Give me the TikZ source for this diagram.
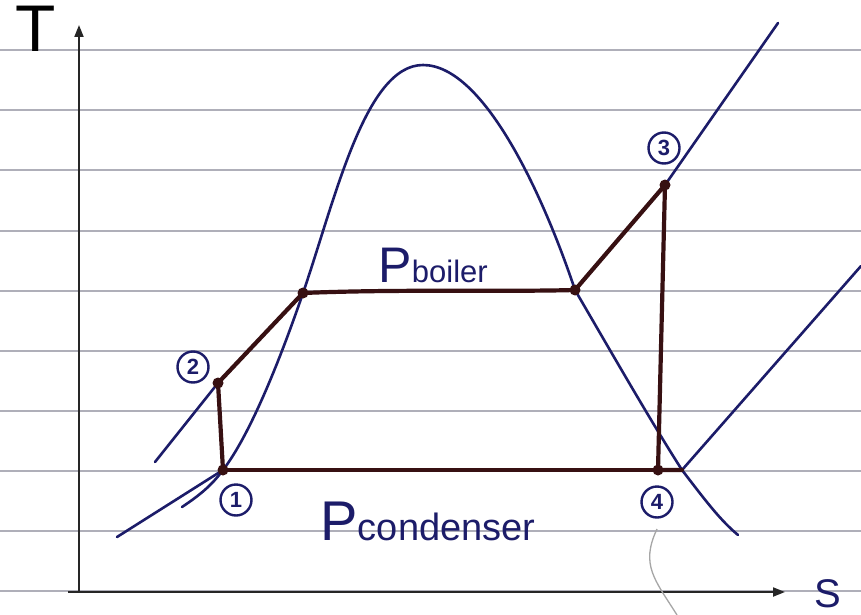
\documentclass[tikz,border=0pt]{standalone}
\usepackage{fontspec}
\setmainfont{Liberation Sans}
\usetikzlibrary{arrows.meta}
\definecolor{ink}{RGB}{28,28,105}
\definecolor{cyc}{RGB}{55,16,18}
\definecolor{rule}{RGB}{175,175,185}
\tikzset{
  ruleline/.style={rule, line width=1.1pt},
  axisline/.style={black!85, line width=2pt, -{Triangle[length=12pt,width=9pt]}},
  dome/.style={ink, line width=2.6pt, line cap=round, line join=round},
  cycle/.style={cyc, line width=4.2pt, line cap=round, line join=round},
  statedot/.style={circle, fill=cyc, inner sep=0pt, minimum size=11pt},
  statelabel/.style={circle, draw=ink, line width=2.4pt, inner sep=0pt, minimum size=31pt, text=ink, font=\fontsize{22}{22}\selectfont\bfseries},
  handtext/.style={text=ink, inner sep=0pt}
}
\begin{document}
\begin{tikzpicture}[x=1pt,y={(0,-1pt)}]
\useasboundingbox (0,0) rectangle (861,615);
\fill[white] (0,0) rectangle (861,615);
% ruled paper
\foreach \yy in {50,110,170,231,291,351,411,471,531,591}
  \draw[ruleline] (0,\yy) -- (861,\yy);
% axes
\coordinate (o) at (79,592);
\coordinate (ytop) at (79,25);
\coordinate (xleft) at (68,592);
\coordinate (xright) at (785,592);
\draw[axisline] (o) -- (ytop);
\draw[black!85, line width=2pt] (o) -- (xleft);
\draw[axisline] (o) -- (xright);
\node[handtext, text=black, font=\fontsize{66}{66}\selectfont, anchor=base] (tlab) at (36,52) {T};
\node[handtext, font=\fontsize{40}{40}\selectfont, anchor=base] (slab) at (828,607) {S};
% state points
\coordinate (s1) at (223,470);
\coordinate (s2) at (218,383);
\coordinate (sf) at (303,293);
\coordinate (sg) at (575,290);
\coordinate (s3) at (665,185);
\coordinate (s4) at (658,470);
\coordinate (x4) at (682,470);
\coordinate (top) at (423,65);
\coordinate (d0) at (182,507);
\coordinate (d1) at (738,535);
% saturation dome
\draw[dome] (d0) .. controls (200,495) and (212,485) .. (s1)
  .. controls (250,435) and (280,360) .. (sf)
  .. controls (335,200) and (365,65) .. (top)
  .. controls (485,65) and (545,200) .. (sg)
  .. controls (610,350) and (650,420) .. (x4)
  .. controls (705,500) and (720,520) .. (d1);
% isobar extensions
\coordinate (l1) at (117,537);
\coordinate (l2) at (155,462);
\coordinate (u3) at (778,23);
\coordinate (u4) at (861,266);
\draw[dome] (l1) -- (s1);
\draw[dome] (l2) -- (s2);
\draw[dome] (s3) -- (u3);
\draw[dome] (x4) -- (u4);
% cycle
\draw[cycle] (s1) -- (s2) -- (sf) .. controls (400,289) and (500,292) .. (sg) -- (s3) -- (s4) -- (x4);
\draw[cycle] (s4) -- (s1);
\foreach \p in {s1,s2,sf,sg,s3,s4}
  \node[statedot] at (\p) {};
% state labels
\node[statelabel] (n1) at (236,500) {1};
\node[statelabel] (n2) at (193,367) {2};
\node[statelabel] (n3) at (664,148) {3};
\node[statelabel] (n4) at (657,502) {4};
% pressure labels
\node[handtext, anchor=base west, font=\fontsize{50}{50}\selectfont] (pb) at (378,282) {P};
\node[handtext, anchor=base west, font=\fontsize{31}{31}\selectfont] (pbsub) at (pb.base east) {boiler};
\node[handtext, anchor=base west, font=\fontsize{56}{56}\selectfont] (pc) at (320,540) {P};
\node[handtext, anchor=base west, font=\fontsize{38}{38}\selectfont] (pcsub) at (pc.base east) {condenser};
% stray pencil curve
\coordinate (g0) at (657,529);
\coordinate (g1) at (677,615);
\draw[gray!70, line width=1.3pt] (g0) .. controls (640,565) and (655,580) .. (g1);
\end{tikzpicture}
\end{document}
